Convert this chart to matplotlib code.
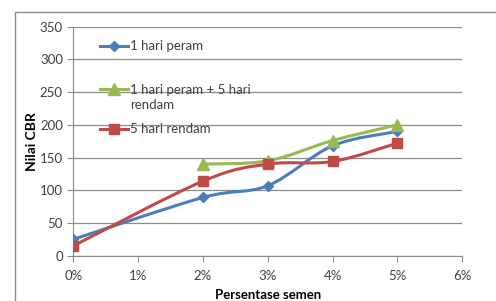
import matplotlib.pyplot as plt
import numpy as np
from matplotlib.path import Path
from matplotlib.patches import PathPatch, Rectangle
from matplotlib.lines import Line2D

plt.rcParams['font.family'] = ['Lato', 'DejaVu Sans']

# ------------------ DATA ------------------
semen_peram = [0, 2, 3, 4, 5]
cbr_peram = [25, 89, 107, 168, 190]

semen_peram_rendam = [2, 3, 4, 5]
cbr_peram_rendam = [140, 145, 176, 200]

semen_rendam = [0, 2, 3, 4, 5]
cbr_rendam = [15, 114, 140, 144, 172]

labels = ['1 hari peram', '1 hari peram + 5 hari\nrendam', '5 hari rendam']
colors = ['#4A7EBB', '#98B954', '#BE4B48']
markers = ['D', '^', 's']
msizes = [5, 8, 7.5]

x_ticks = [0, 1, 2, 3, 4, 5, 6]
x_ticklabels = ['0%', '1%', '2%', '3%', '4%', '5%', '6%']
y_ticks = [0, 50, 100, 150, 200, 250, 300, 350]


def smooth_path(x, y):
    # kurva halus gaya Excel (Catmull-Rom -> Bezier)
    p = np.column_stack([x, y]).astype(float)
    n = len(p)
    verts = [p[0]]
    codes = [Path.MOVETO]
    for i in range(n - 1):
        p0 = p[i - 1] if i > 0 else p[i]
        p3 = p[i + 2] if i + 2 < n else p[i + 1]
        c1 = p[i] + (p[i + 1] - p0) / 6
        c2 = p[i + 1] - (p3 - p[i]) / 6
        verts += [c1, c2, p[i + 1]]
        codes += [Path.CURVE4] * 3
    return Path(verts, codes)


fig = plt.figure(figsize=(4.96, 3.01), dpi=100)
# bingkai luar grafik
fig.patches.append(Rectangle((15 / 496, -0.1), 1.2, 1.1 - 12 / 301,
                             transform=fig.transFigure, fill=False,
                             edgecolor='#8c8c8c', linewidth=1.0))

ax = fig.add_axes([73.3 / 496, 45.3 / 301, (462.3 - 73.3) / 496, (255.7 - 26.7) / 301])

series = [(semen_peram, cbr_peram), (semen_peram_rendam, cbr_peram_rendam),
          (semen_rendam, cbr_rendam)]
for i in [0, 2, 1]:
    xs, ys = series[i]
    ax.add_patch(PathPatch(smooth_path(xs, ys), fill=False, edgecolor=colors[i],
                           linewidth=2.2, zorder=3 + i))
    ax.plot(xs, ys, linestyle='none', marker=markers[i], markersize=msizes[i],
            color=colors[i], zorder=4 + i)

ax.set_xlim(0, 6)
ax.set_ylim(0, 350)
ax.set_xticks(x_ticks)
ax.set_xticklabels(x_ticklabels)
ax.set_yticks(y_ticks)
ax.grid(axis='y', color='#8c8c8c', linewidth=0.9)
ax.set_axisbelow(True)
for s in ['top', 'right']:
    ax.spines[s].set_visible(False)
for s in ['left', 'bottom']:
    ax.spines[s].set_color('#8c8c8c')
ax.tick_params(axis='both', colors='#8c8c8c', labelcolor='#404040', labelsize=9.5,
               length=4, direction='out')
ax.tick_params(axis='x', pad=6)

ax.set_ylabel('Nilai CBR', fontsize=10, fontweight='bold', labelpad=1)
ax.set_xlabel('Persentase semen', fontsize=9.5, fontweight='bold', labelpad=5)

# legenda
leg_y = [46, 89, 129]
for i in range(3):
    yf = 1 - leg_y[i] / 301
    fig.add_artist(Line2D([100 / 496, 128 / 496], [yf, yf], color=colors[i],
                          linewidth=2.2))
    fig.add_artist(Line2D([114 / 496], [yf], color=colors[i], linestyle='none',
                          marker=markers[i], markersize=msizes[i]))
    if '\n' in labels[i]:
        fig.text(130 / 496, yf + 5 / 301, labels[i], fontsize=9.5, color='#404040',
                 va='top', linespacing=1.3)
    else:
        fig.text(130 / 496, yf, labels[i], fontsize=9.5, color='#404040', va='center')

fig.savefig('out.png', dpi=100)
